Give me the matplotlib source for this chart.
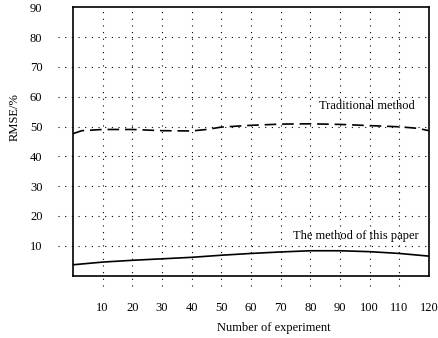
import matplotlib
matplotlib.use("Agg")
import matplotlib.pyplot as plt
import numpy as np

plt.rcParams['font.family'] = ['Liberation Serif', 'DejaVu Serif']

# Data
x_trad = [0, 3, 10, 20, 30, 40, 45, 50, 60, 70, 80, 90, 100, 110, 116, 120]
y_trad = [47.6, 48.6, 49.0, 49.0, 48.6, 48.5, 49.0, 49.8, 50.4, 50.8, 50.9, 50.7, 50.3, 49.9, 49.4, 48.6]
x_ours = [0, 10, 20, 30, 40, 50, 60, 70, 80, 90, 100, 110, 120]
y_ours = [3.6, 4.5, 5.1, 5.6, 6.1, 6.8, 7.4, 7.9, 8.3, 8.3, 8.0, 7.4, 6.5]

x_ticks = [10, 20, 30, 40, 50, 60, 70, 80, 90, 100, 110, 120]
y_ticks = [10, 20, 30, 40, 50, 60, 70, 80, 90]
x_grid = [10, 20, 30, 40, 50, 60, 70, 80, 90, 100, 110]
y_grid = [10, 20, 30, 40, 50, 60, 70, 80]

label_trad = "Traditional method"
label_ours = "The method of this paper"

fig = plt.figure(figsize=(4.39, 3.38), dpi=100)
ax = fig.add_axes([73/439, 1-275.5/338, (429-73)/439, (275.5-7.3)/338])
ax.set_xlim(0, 120)
ax.set_ylim(0, 90)

dot = (0, (1, 5))
for gx in x_grid:
    ax.plot([gx, gx], [-3.4, 90], color='black', lw=0.8, ls=dot, clip_on=False, zorder=1)
for gy in y_grid:
    ax.plot([-5, 120], [gy, gy], color='black', lw=0.8, ls=dot, clip_on=False, zorder=1)

ax.plot(x_trad, y_trad, color='black', lw=1.2, ls=(0, (7, 3.5)), zorder=3)
ax.plot(x_ours, y_ours, color='black', lw=1.2, ls='-', zorder=3)

ax.text(82.9, 56.9, label_trad, fontsize=9, va='center', ha='left')
ax.text(74.0, 13.4, label_ours, fontsize=9, va='center', ha='left')

ax.set_xticks(x_ticks)
ax.set_xticklabels([str(v) for v in x_ticks], fontsize=9)
ax.set_yticks(y_ticks)
ax.set_yticklabels([str(v) for v in y_ticks], fontsize=9)
ax.tick_params(axis='both', length=0)
ax.tick_params(axis='x', pad=19)
ax.tick_params(axis='y', pad=22)

for s in ax.spines.values():
    s.set_linewidth(1.2)

fig.text(15/439, 1-117/338, "RMSE/%", rotation=90, fontsize=9, ha='center', va='center')
fig.text(274/439, 1-328/338, "Number of experiment", fontsize=9, ha='center', va='center')

fig.savefig("out.png", dpi=100)
